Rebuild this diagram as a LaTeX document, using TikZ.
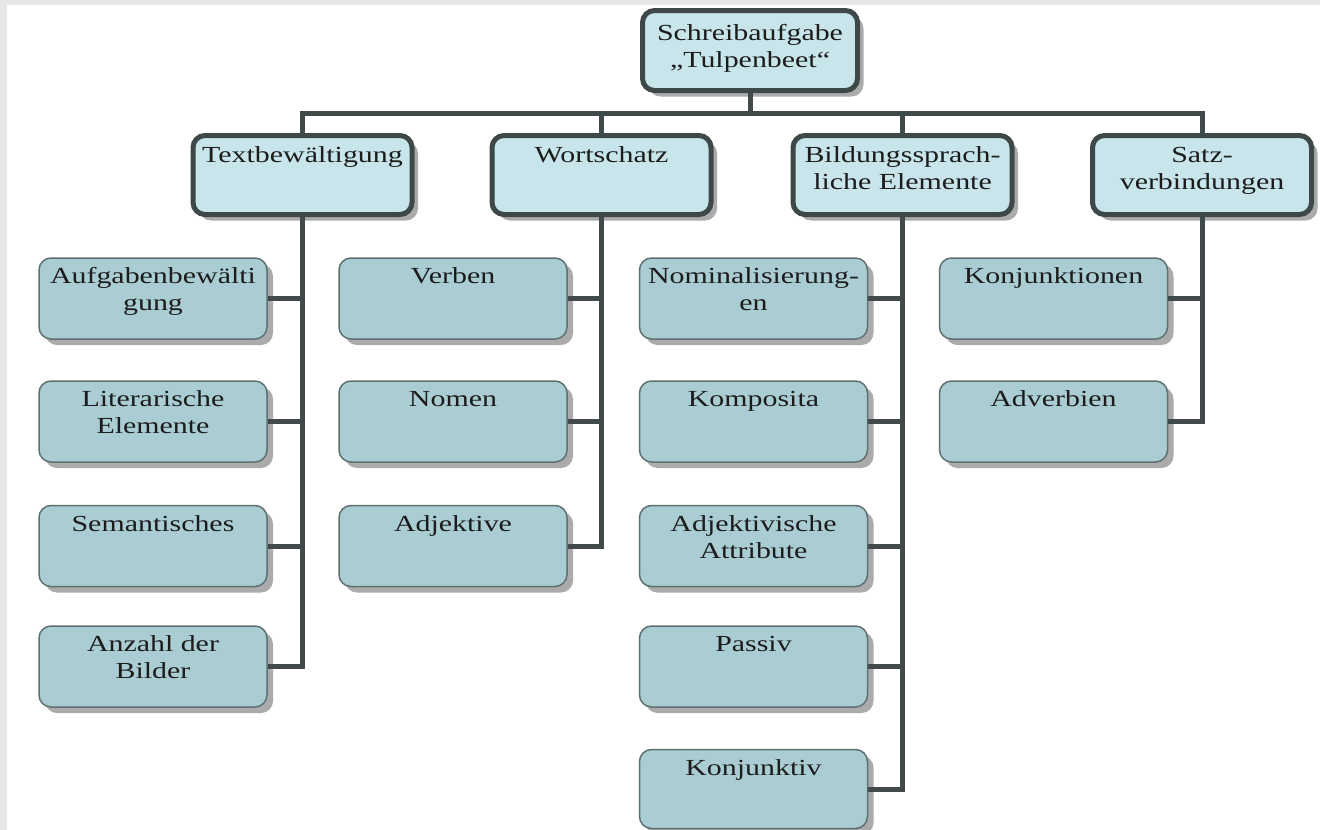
\documentclass[tikz,border=0pt]{standalone}
\usepackage{fontspec}
\setmainfont{Liberation Serif}[FakeStretch=1.3]
\usetikzlibrary{shadows}
\definecolor{frameg}{HTML}{E6E6E6}
\definecolor{onefill}{HTML}{C7E5EA}
\definecolor{oneborder}{HTML}{3E4848}
\definecolor{twofill}{HTML}{AACDD3}
\definecolor{twoborder}{HTML}{5F7070}
\definecolor{linkcol}{HTML}{404A4A}
\definecolor{shadowg}{HTML}{ABABAB}
\definecolor{txtcol}{HTML}{1C1C1C}
\newcommand{\bxtxt}[4]{\parbox[c][#2][t]{#1}{\centering\rule{0pt}{#3}#4}}
\begin{document}
\begin{tikzpicture}[x=1pt,y=-1pt,
  basebox/.style={inner sep=0pt, rounded corners=12pt, text=txtcol,
    font=\fontsize{23}{27}\selectfont,
    drop shadow={shadow xshift=6pt, shadow yshift=-6pt, fill=shadowg, opacity=1}},
  lvone/.style={basebox, draw=oneborder, line width=5pt, fill=onefill},
  lvtwo/.style={basebox, draw=twoborder, line width=1.5pt, fill=twofill},
  link/.style={draw=linkcol, line width=5pt}]
\fill[frameg] (0,0) rectangle (1320,830);
\fill[white] (7,5) rectangle (1320,830);
\useasboundingbox (0,0) rectangle (1320,830);

% root and level one
\node[lvone] (root) at (750,50.5) {\bxtxt{215pt}{80pt}{29.5pt}{Schreibaufgabe\\„Tulpenbeet“}};
\node[lvone] (ta) at (302.5,175) {\bxtxt{219pt}{79pt}{26.5pt}{Textbewältigung}};
\node[lvone] (tb) at (601.5,175) {\bxtxt{219pt}{79pt}{26.5pt}{Wortschatz}};
\node[lvone] (tc) at (902.5,175) {\bxtxt{219pt}{79pt}{26.5pt}{Bildungssprach-\\liche Elemente}};
\node[lvone] (td) at (1202,175) {\bxtxt{219pt}{79pt}{26.5pt}{Satz-\\verbindungen}};

% column 1
\node[lvtwo] (a1) at (153,298.5) {\bxtxt{228pt}{81pt}{25.5pt}{Aufgabenbewälti\\gung}};
\node[lvtwo] (a2) at (153,421.5) {\bxtxt{228pt}{81pt}{25.5pt}{Literarische\\Elemente}};
\node[lvtwo] (a3) at (153,546) {\bxtxt{228pt}{81pt}{25.5pt}{Semantisches}};
\node[lvtwo] (a4) at (153,666.5) {\bxtxt{228pt}{81pt}{25.5pt}{Anzahl der\\Bilder}};
% column 2
\node[lvtwo] (b1) at (453,298.5) {\bxtxt{228pt}{81pt}{25.5pt}{Verben}};
\node[lvtwo] (b2) at (453,421.5) {\bxtxt{228pt}{81pt}{25.5pt}{Nomen}};
\node[lvtwo] (b3) at (453,546) {\bxtxt{228pt}{81pt}{25.5pt}{Adjektive}};
% column 3
\node[lvtwo] (c1) at (753.5,298.5) {\bxtxt{228pt}{81pt}{25.5pt}{Nominalisierung-\\en}};
\node[lvtwo] (c2) at (753.5,421.5) {\bxtxt{228pt}{81pt}{25.5pt}{Komposita}};
\node[lvtwo] (c3) at (753.5,546) {\bxtxt{228pt}{81pt}{25.5pt}{Adjektivische\\Attribute}};
\node[lvtwo] (c4) at (753.5,666.5) {\bxtxt{228pt}{81pt}{25.5pt}{Passiv}};
\node[lvtwo] (c5) at (753.5,789) {\bxtxt{228pt}{79pt}{25.5pt}{Konjunktiv}};
% column 4
\node[lvtwo] (d1) at (1053.5,298.5) {\bxtxt{228pt}{81pt}{25.5pt}{Konjunktionen}};
\node[lvtwo] (d2) at (1053.5,421.5) {\bxtxt{228pt}{81pt}{25.5pt}{Adverbien}};

% connectors
\coordinate (bar) at (750,113);
\path[link] (root.south) -- (root.south |- bar);
\path[link] (ta.north) |- (bar) -| (td.north);
\path[link] (tb.north) -- (tb.north |- bar);
\path[link] (tc.north) -- (tc.north |- bar);

\path[link] (ta.south) |- (a4.east);
\path[link] (a1.east) -- (a1.east -| ta.south);
\path[link] (a2.east) -- (a2.east -| ta.south);
\path[link] (a3.east) -- (a3.east -| ta.south);

\path[link] (tb.south) |- (b3.east);
\path[link] (b1.east) -- (b1.east -| tb.south);
\path[link] (b2.east) -- (b2.east -| tb.south);

\path[link] (tc.south) |- (c5.east);
\path[link] (c1.east) -- (c1.east -| tc.south);
\path[link] (c2.east) -- (c2.east -| tc.south);
\path[link] (c3.east) -- (c3.east -| tc.south);
\path[link] (c4.east) -- (c4.east -| tc.south);

\path[link] (td.south) |- (d2.east);
\path[link] (d1.east) -- (d1.east -| td.south);
\end{tikzpicture}
\end{document}
